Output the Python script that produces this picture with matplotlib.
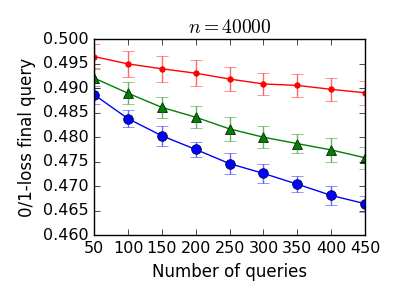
import matplotlib
matplotlib.use("Agg")
import matplotlib.pyplot as plt

plt.style.use('classic')

queries = [50, 100, 150, 200, 250, 300, 350, 400, 450]
red_vals = [0.4965, 0.4950, 0.4940, 0.4931, 0.4919, 0.4909, 0.4906, 0.4898, 0.4891]
red_err = [0.0026, 0.0026, 0.0027, 0.0026, 0.0024, 0.0022, 0.0024, 0.0024, 0.0025]
green_vals = [0.4921, 0.4890, 0.4861, 0.4841, 0.4817, 0.4800, 0.4787, 0.4774, 0.4758]
green_err = [0.0020, 0.0022, 0.0021, 0.0023, 0.0024, 0.0022, 0.0020, 0.0024, 0.0023]
blue_vals = [0.4887, 0.4838, 0.4803, 0.4775, 0.4746, 0.4726, 0.4704, 0.4681, 0.4664]
blue_err = [0.0018, 0.0018, 0.0020, 0.0015, 0.0022, 0.0019, 0.0017, 0.0020, 0.0016]

fig = plt.figure(figsize=(3.99, 2.99), dpi=100)
ax = fig.add_axes([0.236, 0.214, 0.679, 0.654])

for vals, err, c, m, ms in [(red_vals, red_err, 'r', '.', 8),
                            (green_vals, green_err, 'g', '^', 7),
                            (blue_vals, blue_err, 'b', 'o', 7)]:
    ax.plot(queries, vals, color=c, marker=m, markersize=ms, lw=1)
    ax.errorbar(queries, vals, yerr=err, fmt='none', ecolor=c, capsize=4,
                elinewidth=1, alpha=0.6)

ax.set_xlim(50, 450)
ax.set_ylim(0.460, 0.500)
ax.set_xticks(queries)
ax.set_yticks([0.460, 0.465, 0.470, 0.475, 0.480, 0.485, 0.490, 0.495, 0.500])
ax.set_yticklabels(['%.3f' % v for v in ax.get_yticks()])
ax.tick_params(labelsize=11.5)
ax.set_xlabel('Number of queries', fontsize=12)
ax.set_ylabel('0/1-loss final query', fontsize=12)
ax.set_title('$n = 40000$', fontsize=14)

fig.savefig('out.png', dpi=100)
